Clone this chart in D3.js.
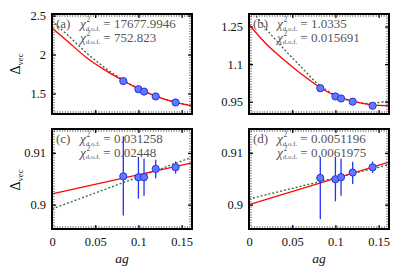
<!DOCTYPE html>
<html>
<head>
<meta charset="utf-8">
<script src="https://cdn.jsdelivr.net/npm/d3@7"></script>
<style>
body { margin: 0; background: #fff; }
</style>
</head>
<body>
<div id="chart-area"></div>
<script>
// data
var agPts = [0.0825, 0.1, 0.1065, 0.12, 0.143];
var curveAg = [0, 0.02, 0.04, 0.06, 0.08, 0.10, 0.12, 0.14, 0.162];
var lineAg = [0, 0.162];

var deltaA = [1.66, 1.555, 1.525, 1.462, 1.385];
var redA = [2.34, 2.15, 1.96, 1.81, 1.68, 1.56, 1.467, 1.395, 1.34];
var greenA = [2.43, 2.23, 2.02, 1.84, 1.69, 1.565, 1.47, 1.395, 1.345];

var deltaB = [1.004, 0.971, 0.963, 0.95, 0.934];
var redB = [1.258, 1.18, 1.118, 1.062, 1.012, 0.974, 0.952, 0.938, 0.934];
var greenB = [1.33, 1.24, 1.162, 1.09, 1.02, 0.976, 0.951, 0.943, 0.954];

var deltaC = [0.90547, 0.90528, 0.9053, 0.9069, 0.90722];
var errLoC = [0.8979, 0.90116, 0.90174, 0.90509, 0.906];
var errHiC = [0.9132, 0.90923, 0.90884, 0.90865, 0.90832];
var redC = [0.90207, 0.90807];
var greenC = [0.89917, 0.90915];

var deltaD = [0.90516, 0.9049, 0.9053, 0.9062, 0.9072];
var errLoD = [0.8972, 0.90064, 0.90174, 0.904, 0.90613];
var errHiD = [0.90922, 0.9092, 0.90884, 0.9083, 0.9083];
var redD = [0.9000, 0.9082];
var greenD = [0.9011, 0.9077];

var xTicks = [0, 0.05, 0.1, 0.15];
var yTicksA = [1.5, 2, 2.5];
var yTicksB = [0.95, 1.1, 1.25];
var yTicksCD = [0.9, 0.91];

var chiA = ["17677.9946", "752.823"];
var chiB = ["1.0335", "0.015691"];
var chiC = ["0.031258", "0.02448"];
var chiD = ["0.0051196", "0.0061975"];

var W = 399, H = 268;
var serif = "Liberation Serif";
var svg = d3.select("#chart-area").append("svg")
    .attr("width", W).attr("height", H)
    .attr("font-family", serif);

var panels = [
    { id: "a", x0: 52, y0: 14, dom: [1.237, 2.52], pts: deltaA, red: redA, green: greenA, curve: true, yt: yTicksA, chi: chiA, bottom: false },
    { id: "b", x0: 249, y0: 14, dom: [0.901, 1.30], pts: deltaB, red: redB, green: greenB, curve: true, yt: yTicksB, chi: chiB, bottom: false },
    { id: "c", x0: 52, y0: 129, dom: [0.8953, 0.9146], pts: deltaC, lo: errLoC, hi: errHiC, red: redC, green: greenC, curve: false, yt: yTicksCD, chi: chiC, bottom: true },
    { id: "d", x0: 249, y0: 129, dom: [0.8953, 0.9146], pts: deltaD, lo: errLoD, hi: errHiD, red: redD, green: greenD, curve: false, yt: yTicksCD, chi: chiD, bottom: true }
];
var pw = 140, ph = 100;

panels.forEach(function(p) {
    var x = d3.scaleLinear().domain([0, 0.162]).range([0, pw]);
    var y = d3.scaleLinear().domain(p.dom).range([ph, 0]);
    var g = svg.append("g").attr("transform", "translate(" + p.x0 + "," + p.y0 + ")");

    g.append("clipPath").attr("id", "clip-" + p.id)
        .append("rect").attr("width", pw).attr("height", ph);

    // minor dotted ticks along the inside of the frame
    g.append("rect")
        .attr("x", 2).attr("y", 2).attr("width", pw - 4).attr("height", ph - 4)
        .attr("fill", "none").attr("stroke", "#222")
        .attr("stroke-width", 1).attr("stroke-dasharray", "1,1.6");

    // major ticks (inward) on all four sides
    var axB = g.append("g").attr("transform", "translate(0," + ph + ")")
        .call(d3.axisBottom(x).tickValues(xTicks).tickSize(-4).tickPadding(8)
            .tickFormat(p.bottom ? d3.format("") : function() { return ""; }));
    var axT = g.append("g")
        .call(d3.axisTop(x).tickValues(xTicks).tickSize(-4).tickFormat(""));
    var axL = g.append("g")
        .call(d3.axisLeft(y).tickValues(p.yt).tickSize(-4).tickPadding(6).tickFormat(d3.format("")));
    var axR = g.append("g").attr("transform", "translate(" + pw + ",0)")
        .call(d3.axisRight(y).tickValues(p.yt).tickSize(-4).tickFormat(""));
    [axB, axT, axL, axR].forEach(function(a) {
        a.attr("font-family", serif).attr("font-size", 12.5);
        a.select(".domain").remove();
        a.selectAll("line").attr("stroke", "#000").attr("stroke-width", 1.2);
        a.selectAll("text").attr("fill", "#111");
    });

    var plot = g.append("g").attr("clip-path", "url(#clip-" + p.id + ")");
    var xs = p.curve ? curveAg : lineAg;
    var line = d3.line()
        .x(function(d, i) { return x(xs[i]); })
        .y(function(d) { return y(d); })
        .curve(p.curve ? d3.curveCatmullRom : d3.curveLinear);

    plot.append("path").datum(p.green)
        .attr("d", line).attr("fill", "none")
        .attr("stroke", "#2f6a35").attr("stroke-width", 1.3)
        .attr("stroke-dasharray", "2,2");
    plot.append("path").datum(p.red)
        .attr("d", line).attr("fill", "none")
        .attr("stroke", "#ff0000").attr("stroke-width", 1.3);

    if (p.lo) {
        g.selectAll(".err").data(p.pts).enter().append("line")
            .attr("x1", function(d, i) { return x(agPts[i]); })
            .attr("x2", function(d, i) { return x(agPts[i]); })
            .attr("y1", function(d, i) { return y(p.lo[i]); })
            .attr("y2", function(d, i) { return y(p.hi[i]); })
            .attr("stroke", "#2233ee").attr("stroke-width", 1.3);
    }
    g.selectAll(".pt").data(p.pts).enter().append("circle")
        .attr("cx", function(d, i) { return x(agPts[i]); })
        .attr("cy", function(d) { return y(d); })
        .attr("r", 3.6)
        .attr("fill", "#6677ff").attr("stroke", "#2233dd").attr("stroke-width", 1);

    // frame
    g.append("rect").attr("width", pw).attr("height", ph)
        .attr("fill", "none").attr("stroke", "#000").attr("stroke-width", 2);

    // panel label and chi^2 values
    var ty = 14;
    g.append("text").attr("x", 4).attr("y", ty).attr("font-size", 13)
        .attr("fill", "#555").text("(" + p.id + ")");
    p.chi.forEach(function(v, k) {
        var by = ty + k * 13.5;
        var t = g.append("text").attr("x", 28).attr("y", by)
            .attr("font-size", 13).attr("fill", "#555");
        t.append("tspan").attr("font-style", "italic").attr("font-size", 13.5).text("χ");
        t.append("tspan").attr("font-size", 7.5).attr("dx", 0.5).attr("dy", -6).text("2");
        t.append("tspan").attr("font-size", 7).attr("dx", -4.5).attr("dy", 8.5).text("d.o.f.");
        t.append("tspan").attr("dx", 3).attr("dy", -2.5).text("= " + v);
    });
});

// y labels
[64, 180].forEach(function(cy) {
    var t = svg.append("text")
        .attr("transform", "translate(20," + cy + ") rotate(-90)")
        .attr("text-anchor", "middle").attr("font-size", 14).attr("fill", "#111");
    t.append("tspan").text("Δ");
    t.append("tspan").attr("font-size", 8.5).attr("dy", 3).text("vec");
});

// x labels
[122, 319].forEach(function(cx) {
    svg.append("text").attr("x", cx).attr("y", 263)
        .attr("text-anchor", "middle").attr("font-size", 13.5)
        .attr("font-style", "italic").attr("fill", "#111").text("ag");
});
</script>
</body>
</html>
